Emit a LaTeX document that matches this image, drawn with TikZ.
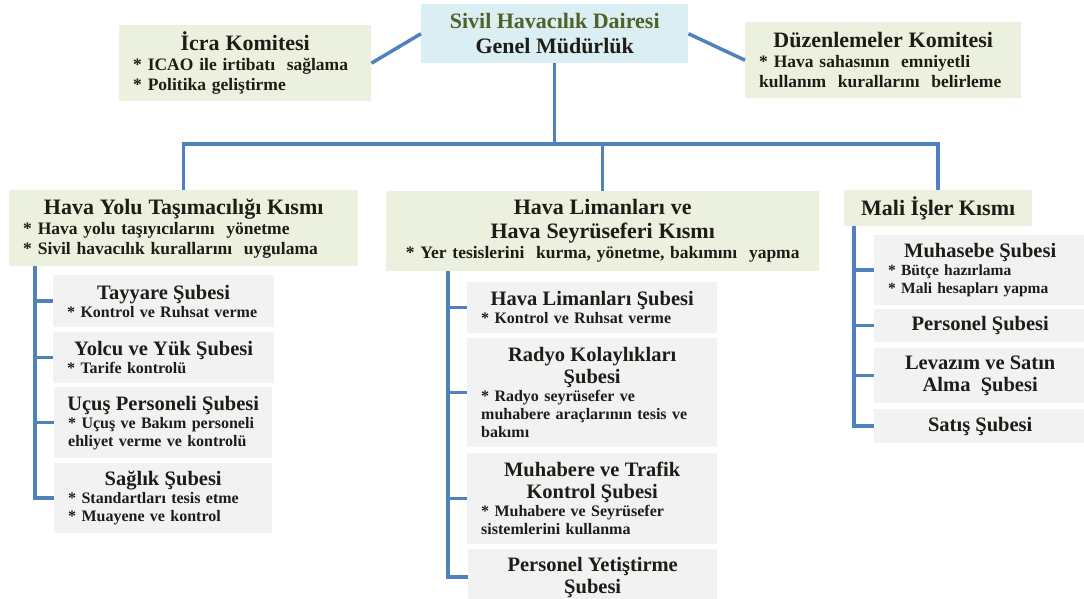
\documentclass[tikz,border=0pt]{standalone}
\usepackage{fontspec}
\setmainfont{LiberationSerif}[Extension=.ttf, UprightFont=*-Regular, BoldFont=*-Bold, ItalicFont=*-Italic, BoldItalicFont=*-BoldItalic]
\definecolor{linblue}{HTML}{4F81BD}
\definecolor{komfill}{HTML}{EBF1DE}
\definecolor{subfill}{HTML}{F2F2F2}
\definecolor{gmfill}{HTML}{DBEEF4}
\definecolor{gmgreen}{HTML}{4F6228}
\definecolor{ink}{HTML}{1E1C16}
\newcommand{\komtitle}{\fontsize{22}{24}\selectfont}
\newcommand{\komtxt}{\fontsize{17.5}{20}\selectfont}
\newcommand{\subtitle}{\fontsize{20.5}{22}\selectfont}
\newcommand{\subtxt}{\fontsize{16}{18}\selectfont}
\newcommand{\mintxt}{\fontsize{15.5}{18}\selectfont}
% maddeler: sola yasli, 10pt iceride
\newcommand{\maddeler}{\raggedright\leftskip=10pt\relax}

\begin{document}
\begin{tikzpicture}[x=1pt,y=-1pt]
    \tikzset{
      conn/.style={draw=linblue, line width=3.5pt},
      kombox/.style={fill=komfill, anchor=north west, inner xsep=4pt, inner ysep=0pt, align=left, text=ink, font=\bfseries\komtxt},
      subbox/.style={fill=subfill, anchor=north west, inner xsep=4pt, inner ysep=0pt, align=left, text=ink, font=\bfseries\subtxt}
    }
    \useasboundingbox (0,0) rectangle (1084,599);
    % genel mudurluk ve komiteler
    \node[fill=gmfill, anchor=north west, minimum width=267pt, minimum height=59pt, inner sep=0pt, align=center, text=ink, font=\bfseries\fontsize{22}{25}\selectfont] (gm) at (421,4) {{\color{gmgreen}Sivil Havacılık Dairesi}\\Genel Müdürlük};
    \node[kombox, text width=244pt, minimum height=76pt] (icra) at (119,25) {{\centering\komtitle İcra Komitesi\par}\maddeler * ICAO ile irtibatı\ \ sağlama\par * Politika geliştirme\par};
    \node[kombox, text width=268pt, minimum height=76pt] (duz) at (745,22) {{\centering\komtitle Düzenlemeler Komitesi\par}\maddeler * Hava sahasının\ \ emniyetli\par kullanım\ \ kurallarını\ \ belirleme\par};
    % kisimlar
    \node[kombox, text width=341pt, minimum height=76pt] (hyk) at (9,190) {{\centering\komtitle Hava Yolu Taşımacılığı Kısmı\par}\maddeler * Hava yolu taşıyıcılarını\ \ yönetme\par * Sivil havacılık kurallarını\ \ uygulama\par};
    \node[kombox, text width=425pt, minimum height=80pt] (hls) at (386,191) {{\centering\komtitle Hava Limanları ve\\Hava Seyrüseferi Kısmı\par}{\centering * Yer tesislerini\ \ kurma, yönetme, bakımını\ \ yapma\par}};
    \node[kombox, align=center, minimum width=188pt, minimum height=36pt, font=\bfseries\komtitle] (mali) at (844,190) {Mali İşler Kısmı};
    % hava yolu subeleri
    \node[subbox, text width=213pt, minimum height=52pt] (tayyare) at (53,275) {{\centering\subtitle Tayyare Şubesi\par}\maddeler * Kontrol ve Ruhsat verme\par};
    \node[subbox, text width=213pt, minimum height=51pt] (yolcu) at (53,332) {{\centering\subtitle Yolcu ve Yük Şubesi\par}\maddeler * Tarife kontrolü\par};
    \node[subbox, text width=210pt, minimum height=71pt] (ucus) at (54,387) {{\centering\subtitle Uçuş Personeli Şubesi\par}\maddeler * Uçuş ve Bakım personeli\par ehliyet verme ve kontrolü\par};
    \node[subbox, text width=210pt, minimum height=70pt] (saglik) at (54,463) {{\centering\subtitle Sağlık Şubesi\par}\maddeler * Standartları tesis etme\par * Muayene ve kontrol\par};
    % hava limanlari subeleri
    \node[subbox, text width=242pt, minimum height=51pt] (hlsube) at (467,282) {{\centering\subtitle Hava Limanları Şubesi\par}\maddeler * Kontrol ve Ruhsat verme\par};
    \node[subbox, text width=242pt, minimum height=109pt] (radyo) at (467,338) {{\centering\subtitle Radyo Kolaylıkları\\Şubesi\par}\maddeler * Radyo seyrüsefer ve\par muhabere araçlarının tesis ve\par bakımı\par};
    \node[subbox, text width=242pt, minimum height=91pt] (muhab) at (467,453) {{\centering\subtitle Muhabere ve Trafik\\Kontrol Şubesi\par}\maddeler * Muhabere ve Seyrüsefer\par sistemlerini kullanma\par};
    \node[subbox, align=center, minimum width=249pt, minimum height=56pt, font=\bfseries\subtitle] (persy) at (468,549) {Personel Yetiştirme\\Şubesi};
    % mali isler subeleri
    \node[subbox, text width=204pt, minimum height=70pt, font=\bfseries\mintxt] (muhas) at (874,235) {{\centering\subtitle Muhasebe Şubesi\par}\maddeler * Bütçe hazırlama\par * Mali hesapları yapma\par};
    \node[subbox, align=center, minimum width=212pt, minimum height=33pt, font=\bfseries\subtitle] (pers) at (874,309) {Personel Şubesi};
    \node[subbox, align=center, minimum width=212pt, minimum height=55pt, font=\bfseries\subtitle] (levaz) at (874,348) {Levazım ve Satın\\Alma\ \ Şubesi};
    \node[subbox, align=center, minimum width=212pt, minimum height=34pt, font=\bfseries\subtitle] (satis) at (874,409) {Satış Şubesi};
    % baglantilar
    \coordinate (bus) at (gm.south |- 0,144);
    \draw[conn] (icra.east) -- (gm.west);
    \draw[conn] (gm.east) -- (duz.west);
    \draw[conn] (gm.south) -- (bus);
    \draw[conn] (hyk.north) -- (hyk.north |- bus) -- (mali.north |- bus) -- (mali.north);
    \draw[conn] (bus -| hls.north) -- (hls.north);
    \coordinate (hykline) at ([xshift=26pt]hyk.south west);
    \coordinate (hlsline) at ([xshift=62pt]hls.south west);
    \coordinate (maliline) at ([xshift=10pt]mali.south west);
    \draw[conn] (hykline) |- (saglik.west);
    \draw[conn] (hlsline) |- (persy.west);
    \draw[conn] (maliline) |- (satis.west);
    \foreach \b in {tayyare,yolcu,ucus}
      \draw[conn] (\b.west) -- (\b.west -| hykline);
    \foreach \b in {hlsube,radyo,muhab}
      \draw[conn] (\b.west) -- (\b.west -| hlsline);
    \foreach \b in {muhas,pers,levaz}
      \draw[conn] (\b.west) -- (\b.west -| maliline);
\end{tikzpicture}
\end{document}
